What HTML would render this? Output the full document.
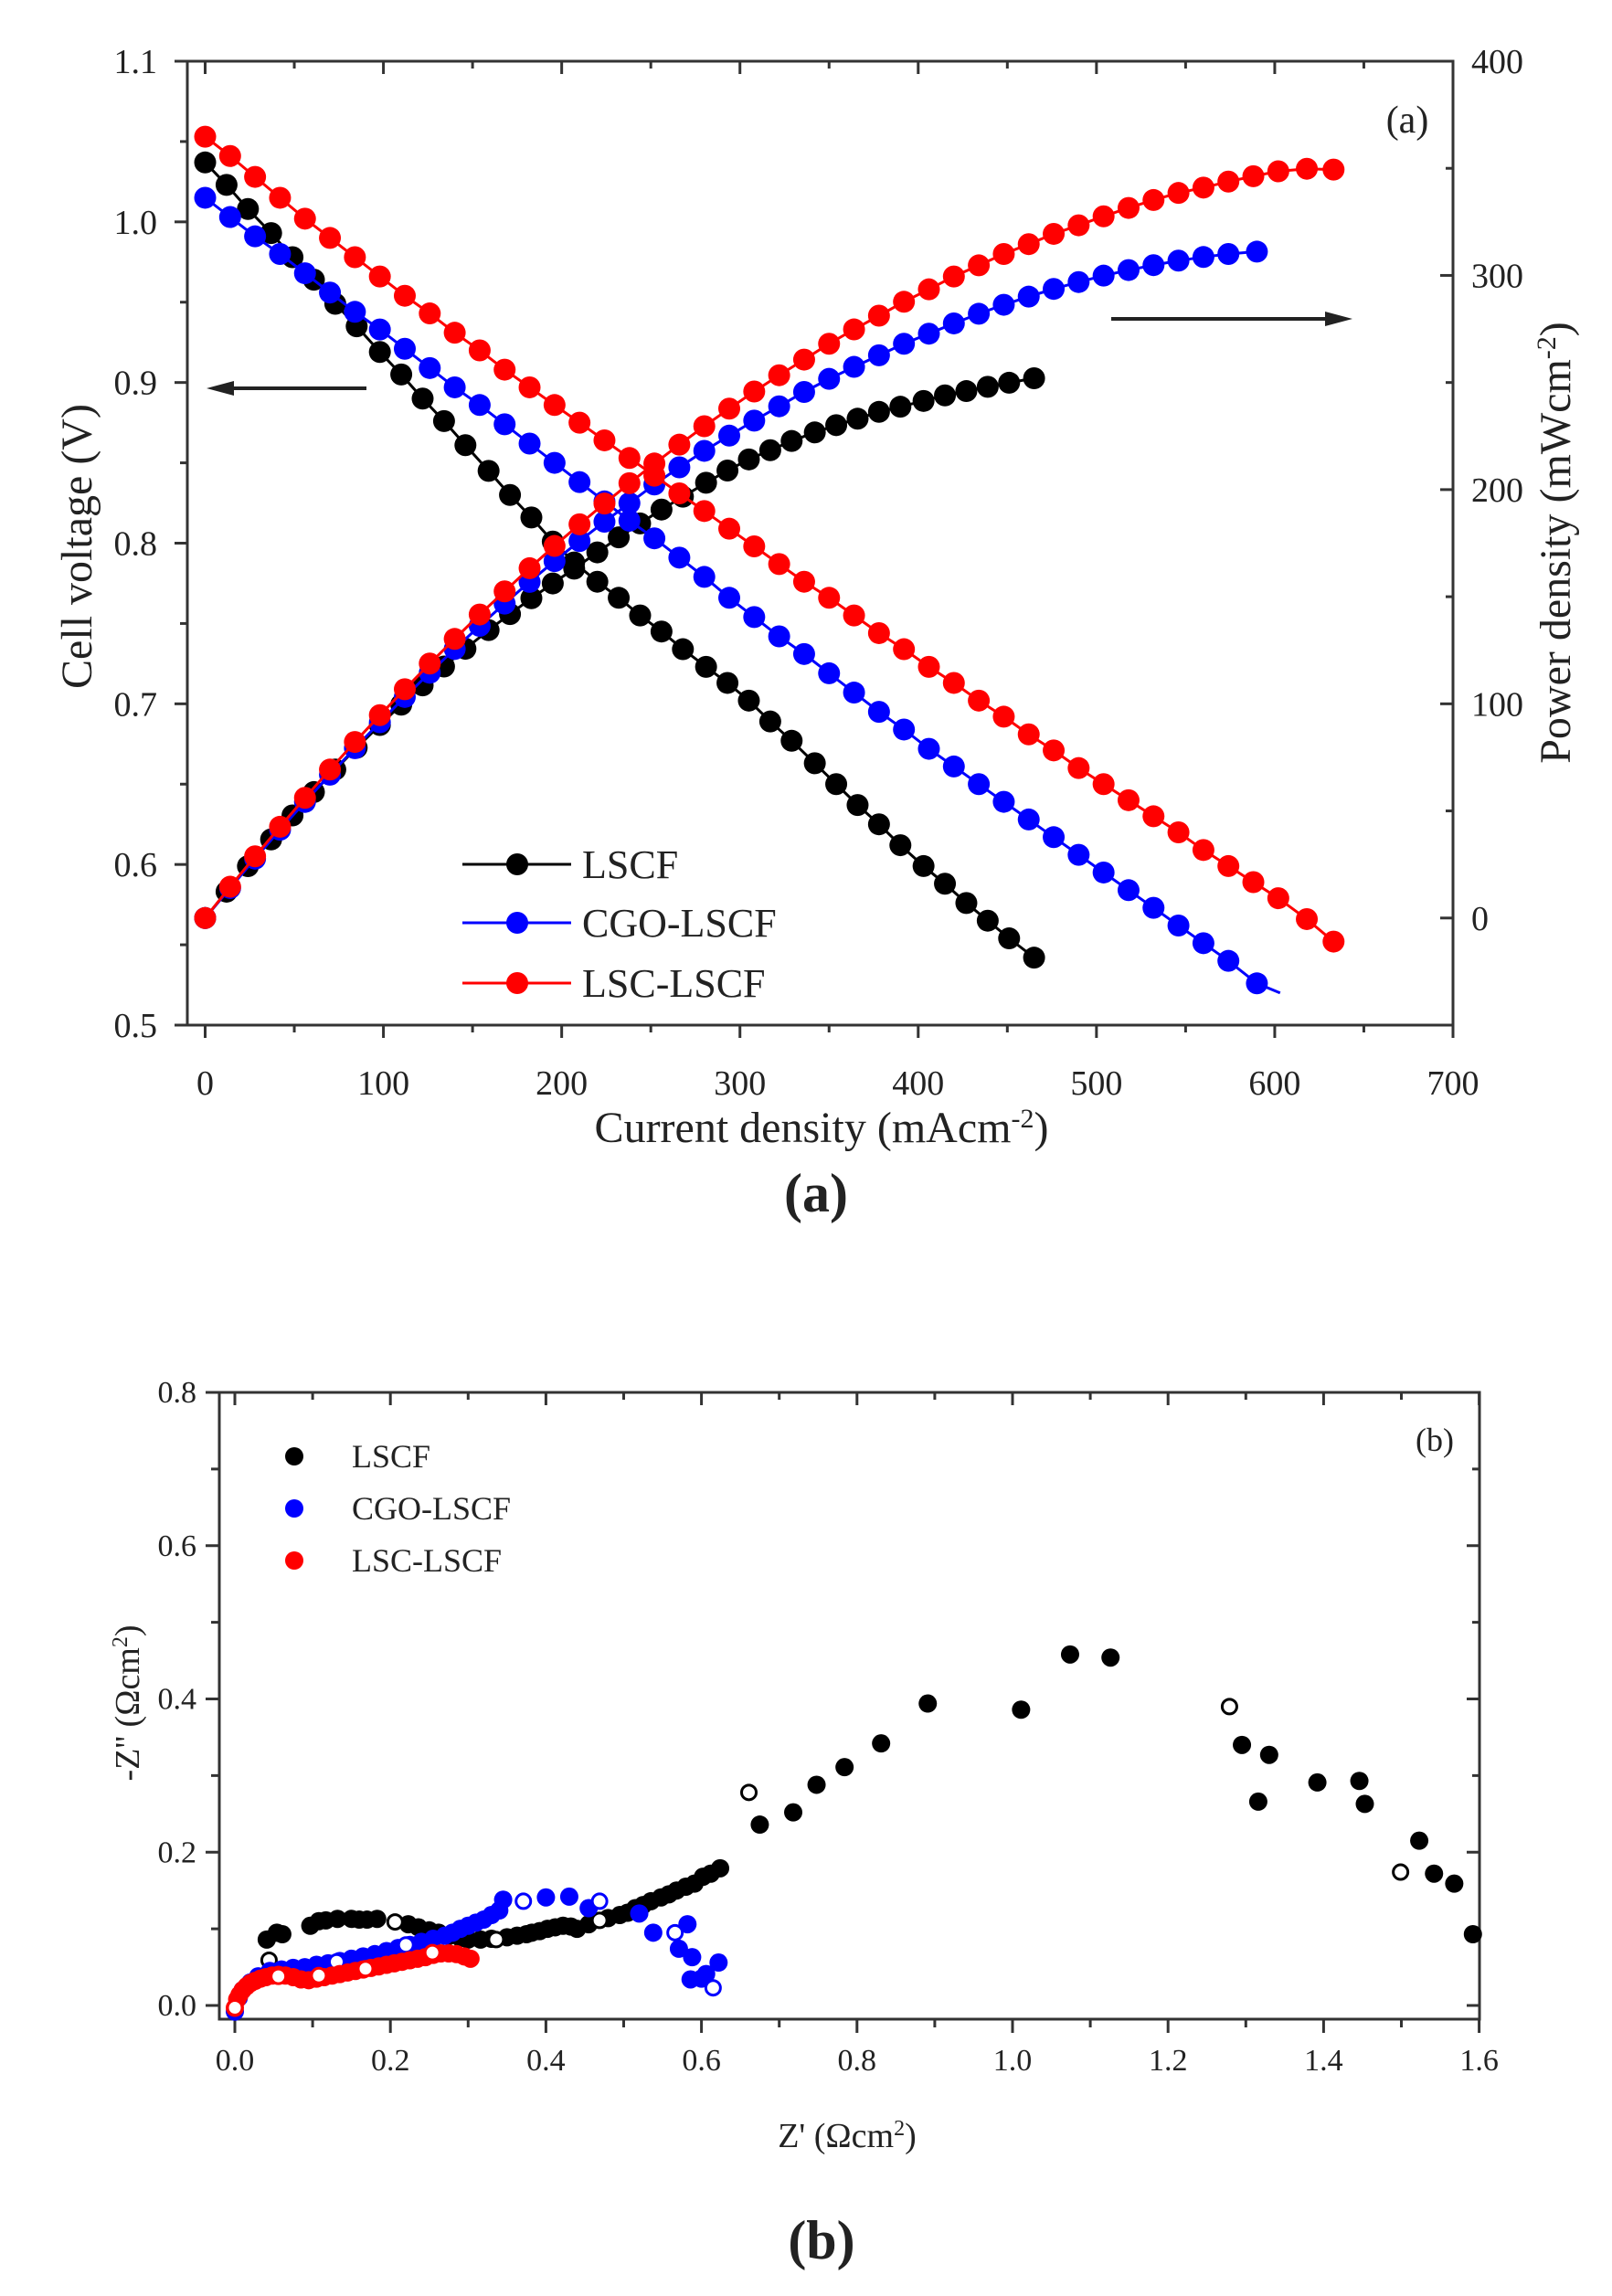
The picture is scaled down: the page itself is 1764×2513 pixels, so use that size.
<!DOCTYPE html>
<html><head><meta charset="utf-8">
<style>
html,body{margin:0;padding:0;background:#fff;}
svg{display:block;}
text{font-family:"Liberation Serif",serif;fill:#222;}
</style></head>
<body>
<svg id="fig" width="1764" height="2513" viewBox="0 0 1764 2513" xmlns="http://www.w3.org/2000/svg">
<rect width="1764" height="2513" fill="#fff"/>
<g id="pa"></g>
<g id="pb"></g>
<text x="893" y="1326" font-size="60" text-anchor="middle" font-weight="bold">(a)</text>
<text x="899" y="2472" font-size="60" text-anchor="middle" font-weight="bold">(b)</text>
</svg>
<script>
// ---------- Panel (a) data ----------
const lscfI = [0,12,24,37,49,61,73,85,98,110,122,134,146,159,171,183,195,207,220,232,244,256,268,281,293,305,317,329,342,354,366,378,390,403,415,427,439,451,465];
const lscfV = [1.037,1.023,1.008,0.993,0.978,0.964,0.949,0.935,0.919,0.905,0.890,0.876,0.861,0.845,0.830,0.816,0.801,0.788,0.776,0.766,0.755,0.745,0.734,0.723,0.713,0.702,0.689,0.677,0.663,0.650,0.637,0.625,0.612,0.599,0.588,0.576,0.565,0.554,0.542];
const lscfP = [0,12.3,24.2,36.7,47.9,58.8,69.3,79.5,90.1,99.6,108.6,117.4,125.7,134.4,141.9,149.3,156.2,163.1,170.7,177.7,184.2,190.7,196.7,203.2,208.9,214.1,218.4,222.7,226.7,230.1,233.1,236.3,238.7,241.4,244.0,246.0,248.0,249.9,252.0];
const cgoI = [0,14,28,42,56,70,84,98,112,126,140,154,168,182,196,210,224,238,252,266,280,294,308,322,336,350,364,378,392,406,420,434,448,462,476,490,504,518,532,546,560,574,590];
const cgoV = [1.015,1.003,0.991,0.980,0.968,0.956,0.944,0.933,0.921,0.909,0.897,0.886,0.874,0.862,0.850,0.838,0.826,0.814,0.803,0.791,0.779,0.766,0.754,0.742,0.731,0.719,0.707,0.695,0.684,0.672,0.661,0.650,0.639,0.628,0.617,0.606,0.595,0.584,0.573,0.562,0.551,0.540,0.526];
const cgoP = [0,14.0,27.7,41.2,54.2,66.9,79.3,91.4,103.2,114.5,125.6,136.4,146.8,156.9,166.6,176.0,185.0,193.7,202.4,210.4,218.1,225.2,232.2,238.9,245.6,251.7,257.3,262.7,268.1,272.8,277.6,282.1,286.3,290.1,293.7,296.9,299.9,302.5,304.8,306.9,308.6,310.0,311.1];
const lscI = [0,14,28,42,56,70,84,98,112,126,140,154,168,182,196,210,224,238,252,266,280,294,308,322,336,350,364,378,392,406,420,434,448,462,476,490,504,518,532,546,560,574,588,602,618,633];
const lscV = [1.053,1.041,1.028,1.015,1.002,0.990,0.978,0.966,0.954,0.943,0.931,0.920,0.908,0.897,0.886,0.875,0.864,0.853,0.842,0.831,0.820,0.809,0.798,0.787,0.776,0.766,0.755,0.744,0.734,0.723,0.713,0.702,0.692,0.681,0.671,0.660,0.650,0.640,0.630,0.620,0.609,0.599,0.589,0.579,0.566,0.552];
const lscP = [0,14.6,28.8,42.6,56.1,69.3,82.2,94.7,106.8,118.8,130.3,141.7,152.5,163.3,173.7,183.8,193.5,203.0,212.2,221.0,229.6,237.8,245.8,253.4,260.7,268.1,274.8,281.2,287.7,293.5,299.5,304.7,310.0,314.6,319.4,323.4,327.6,331.5,335.2,338.5,341.0,343.8,346.3,348.6,349.8,349.4];
const aXTicks = [0,100,200,300,400,500,600,700];
const aVTicks = [0.5,0.6,0.7,0.8,0.9,1.0,1.1];
const aPTicks = [0,100,200,300,400];

// ---------- Panel (b) data ----------
const bLscfX = [0.041,0.054,0.061,0.097,0.108,0.117,0.132,0.150,0.160,0.170,0.183,0.223,0.236,0.250,0.262,0.276,0.29,0.30,0.316,0.33,0.35,0.363,0.375,0.382,0.392,0.402,0.412,0.422,0.432,0.440,0.455,0.48,0.495,0.505,0.515,0.525,0.535,0.548,0.558,0.568,0.58,0.591,0.602,0.612,0.624,0.675,0.718,0.748,0.784,0.831,0.891,1.011,1.074,1.126,1.295,1.330,1.316,1.392,1.446,1.453,1.523,1.542,1.568,1.592];
const bLscfY = [0.086,0.095,0.093,0.104,0.110,0.111,0.113,0.113,0.112,0.112,0.113,0.106,0.102,0.098,0.095,0.091,0.088,0.086,0.086,0.087,0.089,0.091,0.093,0.095,0.097,0.100,0.102,0.104,0.103,0.100,0.106,0.114,0.118,0.121,0.127,0.131,0.136,0.141,0.145,0.150,0.155,0.159,0.168,0.172,0.179,0.236,0.252,0.288,0.311,0.342,0.394,0.386,0.458,0.454,0.340,0.327,0.266,0.291,0.293,0.263,0.215,0.172,0.159,0.093];
const bLscfOpenX = [0.044,0.206,0.336,0.469,0.661,1.279,1.499];
const bLscfOpenY = [0.059,0.109,0.086,0.111,0.278,0.390,0.174];
const bCgoX = [0,0.005,0.01,0.02,0.03,0.045,0.06,0.075,0.09,0.105,0.12,0.135,0.15,0.165,0.18,0.195,0.21,0.225,0.24,0.255,0.27,0.28,0.29,0.30,0.31,0.32,0.33,0.34,0.345,0.40,0.43,0.455,0.52,0.538,0.571,0.582,0.588,0.586,0.606,0.622,0.60];
const bCgoY = [-0.008,0.01,0.02,0.03,0.038,0.045,0.047,0.049,0.050,0.053,0.055,0.058,0.061,0.064,0.067,0.071,0.075,0.079,0.083,0.087,0.091,0.095,0.100,0.104,0.108,0.112,0.118,0.124,0.138,0.141,0.142,0.127,0.120,0.095,0.074,0.106,0.063,0.034,0.041,0.056,0.035];
const bCgoOpenX = [0.131,0.220,0.371,0.469,0.566,0.615];
const bCgoOpenY = [0.057,0.079,0.136,0.136,0.095,0.023];
const bLscX = [0,0.003,0.006,0.01,0.015,0.02,0.026,0.033,0.04,0.048,0.056,0.065,0.075,0.085,0.095,0.105,0.115,0.125,0.135,0.145,0.155,0.165,0.175,0.185,0.195,0.205,0.215,0.225,0.235,0.245,0.255,0.265,0.275,0.285,0.295,0.303];
const bLscY = [-0.003,0.008,0.014,0.020,0.025,0.029,0.032,0.035,0.037,0.039,0.040,0.039,0.037,0.034,0.033,0.035,0.037,0.039,0.041,0.043,0.045,0.047,0.049,0.051,0.053,0.055,0.057,0.059,0.061,0.063,0.066,0.068,0.068,0.067,0.064,0.061];
const bLscOpenX = [0,0.056,0.108,0.168,0.254];
const bLscOpenY = [-0.003,0.038,0.039,0.048,0.069];
const bXTicks = [0,0.2,0.4,0.6,0.8,1.0,1.2,1.4,1.6];
const bYTicks = [0,0.2,0.4,0.6,0.8];

const NS = "http://www.w3.org/2000/svg";
function mk(parent, tag, attrs, text){
  const e = document.createElementNS(NS, tag);
  for (const k in attrs) e.setAttribute(k, attrs[k]);
  if (text !== undefined) e.textContent = text;
  parent.appendChild(e);
  return e;
}

// ===== Panel (a) =====
const A = {l:205, r:1590, t:67, b:1122};
const ax = v => A.l + (v + 10) / 710 * (A.r - A.l);
const ayV = v => A.b - (v - 0.5) / 0.6 * (A.b - A.t);
const ayP = v => A.b - (v + 50) / 450 * (A.b - A.t);
const pa = document.getElementById('pa');

const fa = mk(pa, 'rect', {x:A.l, y:A.t, width:A.r-A.l, height:A.b-A.t, fill:'none', stroke:'#333', 'stroke-width':3});



for (let v = 0; v <= 700; v += 50) {
  const x = ax(v), maj = v % 100 === 0;
  mk(pa, 'line', {x1:x, x2:x, y1:A.b, y2:A.b + (maj?14:8), stroke:'#333', 'stroke-width':3});
  mk(pa, 'line', {x1:x, x2:x, y1:A.t, y2:A.t + (maj?14:8), stroke:'#333', 'stroke-width':3});
}
aXTicks.forEach(v => {
  const t = mk(pa, 'text', {x:ax(v), y:1198, 'font-size':38, 'text-anchor':'middle'}, String(v));
  
  
});
for (let i = 0; i <= 12; i++) {
  const v = 0.5 + i * 0.05, y = ayV(v), maj = i % 2 === 0;
  mk(pa, 'line', {x1:A.l - (maj?14:8), x2:A.l, y1:y, y2:y, stroke:'#333', 'stroke-width':3});
}
aVTicks.forEach(v => {
  const t = mk(pa, 'text', {x:172, y:ayV(v) + 13, 'font-size':38, 'text-anchor':'end'}, v.toFixed(1));
  
  
});
for (let v = -50; v <= 400; v += 50) {
  const y = ayP(v), maj = v % 100 === 0;
  mk(pa, 'line', {x1:A.r - (maj?14:8), x2:A.r, y1:y, y2:y, stroke:'#333', 'stroke-width':3});
}
aPTicks.forEach(v => {
  const t = mk(pa, 'text', {x:1610, y:ayP(v) + 13, 'font-size':38, 'text-anchor':'start'}, String(v));
  
  
});

const xt = mk(pa, 'text', {x:899, y:1250, 'font-size':48, 'text-anchor':'middle'});


xt.innerHTML = 'Current density (mAcm<tspan baseline-shift="super" font-size="30">-2</tspan>)';
const yt = mk(pa, 'text', {x:0, y:0, 'font-size':48, 'text-anchor':'middle', transform:'translate(100,598) rotate(-90)'}, 'Cell voltage (V)');


const yt2 = mk(pa, 'text', {x:0, y:0, 'font-size':48, 'text-anchor':'middle', transform:'translate(1718,594) rotate(-90)'});


yt2.innerHTML = 'Power density (mWcm<tspan baseline-shift="super" font-size="30">-2</tspan>)';
const pl = mk(pa, 'text', {x:1540, y:145, 'font-size':42, 'text-anchor':'middle'}, '(a)');



const arL = mk(pa, 'g', {});


mk(arL, 'line', {x1:401, x2:240, y1:425, y2:425, stroke:'#222', 'stroke-width':4});
mk(arL, 'polygon', {points:'226,425 256,417 256,433', fill:'#222'});
const arR = mk(pa, 'g', {});


mk(arR, 'line', {x1:1216, x2:1460, y1:349, y2:349, stroke:'#222', 'stroke-width':4});
mk(arR, 'polygon', {points:'1480,349 1450,341 1450,357', fill:'#222'});

function seriesA(I, Y, yfn, color, name, tail) {
  const g = mk(pa, 'g', {});
  
  
  let pts = I.map((v,i) => ax(v).toFixed(1) + ',' + yfn(Y[i]).toFixed(1)).join(' ');
  if (tail) pts += ' ' + ax(tail[0]).toFixed(1) + ',' + yfn(tail[1]).toFixed(1);
  mk(g, 'polyline', {points:pts, fill:'none', stroke:color, 'stroke-width':3});
  I.forEach((v,i) => {
    const c = mk(g, 'circle', {cx:ax(v), cy:yfn(Y[i]), r:12, fill:color});
    
    
  });
}
seriesA(lscfI, lscfV, ayV, '#000', 'lscf-voltage-series');
seriesA(lscfI, lscfP, ayP, '#000', 'lscf-power-series');
seriesA(cgoI, cgoV, ayV, '#0000ff', 'cgo-lscf-voltage-series', [603, 0.520]);
seriesA(cgoI, cgoP, ayP, '#0000ff', 'cgo-lscf-power-series');
seriesA(lscI, lscV, ayV, '#ff0000', 'lsc-lscf-voltage-series');
seriesA(lscI, lscP, ayP, '#ff0000', 'lsc-lscf-power-series');

[['LSCF','#000',946],['CGO-LSCF','#0000ff',1010],['LSC-LSCF','#ff0000',1076]].forEach(([lab,col,y]) => {
  const g = mk(pa, 'g', {});
  
  
  mk(g, 'line', {x1:506, x2:625, y1:y, y2:y, stroke:col, 'stroke-width':3});
  mk(g, 'circle', {cx:566, cy:y, r:12, fill:col});
  mk(g, 'text', {x:637, y:y + 15, 'font-size':44}, lab);
});

// ===== Panel (b) =====
const B = {l:240, r:1619, t:1524, b:2210};
const bx = v => 257 + v * 851;
const by = v => 2195 - v * 838.75;
const pb = document.getElementById('pb');
const fb = mk(pb, 'rect', {x:B.l, y:B.t, width:B.r-B.l, height:B.b-B.t, fill:'none', stroke:'#333', 'stroke-width':3});


for (let i = 0; i <= 16; i++) {
  const x = bx(i * 0.1), maj = i % 2 === 0;
  mk(pb, 'line', {x1:x, x2:x, y1:B.b, y2:B.b + (maj?15:9), stroke:'#333', 'stroke-width':3});
  mk(pb, 'line', {x1:x, x2:x, y1:B.t, y2:B.t + (maj?14:8), stroke:'#333', 'stroke-width':3});
}
bXTicks.forEach(v => {
  const t = mk(pb, 'text', {x:bx(v), y:2266, 'font-size':34, 'text-anchor':'middle'}, v.toFixed(1));
  
  
});
for (let i = 0; i <= 8; i++) {
  const y = by(i * 0.1), maj = i % 2 === 0;
  mk(pb, 'line', {x1:B.l - (maj?15:9), x2:B.l, y1:y, y2:y, stroke:'#333', 'stroke-width':3});
  mk(pb, 'line', {x1:B.r - (maj?14:8), x2:B.r, y1:y, y2:y, stroke:'#333', 'stroke-width':3});
}
bYTicks.forEach(v => {
  const t = mk(pb, 'text', {x:215, y:by(v) + 11, 'font-size':34, 'text-anchor':'end'}, v.toFixed(1));
  
  
});
const bxt = mk(pb, 'text', {x:927, y:2350, 'font-size':38, 'text-anchor':'middle'});


bxt.innerHTML = 'Z\' (Ωcm<tspan baseline-shift="super" font-size="24">2</tspan>)';
const byt = mk(pb, 'text', {x:0, y:0, 'font-size':38, 'text-anchor':'middle', transform:'translate(152,1864) rotate(-90)'});


byt.innerHTML = '-Z\'\' (Ωcm<tspan baseline-shift="super" font-size="24">2</tspan>)';
const plb = mk(pb, 'text', {x:1570, y:1588, 'font-size':36, 'text-anchor':'middle'}, '(b)');



function seriesB(X, Y, OX, OY, color, name) {
  const g = mk(pb, 'g', {});
  
  
  X.forEach((v,i) => {
    const c = mk(g, 'circle', {cx:bx(v), cy:by(Y[i]), r:10, fill:color});
    
    
  });
  OX.forEach((v,i) => {
    const c = mk(g, 'circle', {cx:bx(v), cy:by(OY[i]), r:8, fill:'#fff', stroke:color, 'stroke-width':3});
    
    
  });
}
seriesB(bLscfX, bLscfY, bLscfOpenX, bLscfOpenY, '#000', 'lscf-impedance-series');
seriesB(bCgoX, bCgoY, bCgoOpenX, bCgoOpenY, '#0000ff', 'cgo-lscf-impedance-series');
seriesB(bLscX, bLscY, bLscOpenX, bLscOpenY, '#ff0000', 'lsc-lscf-impedance-series');

[['LSCF','#000',1594],['CGO-LSCF','#0000ff',1651],['LSC-LSCF','#ff0000',1708]].forEach(([lab,col,y]) => {
  const g = mk(pb, 'g', {});
  
  
  mk(g, 'circle', {cx:322, cy:y, r:10, fill:col});
  mk(g, 'text', {x:385, y:y + 12, 'font-size':36}, lab);
});
</script>
</body></html>
